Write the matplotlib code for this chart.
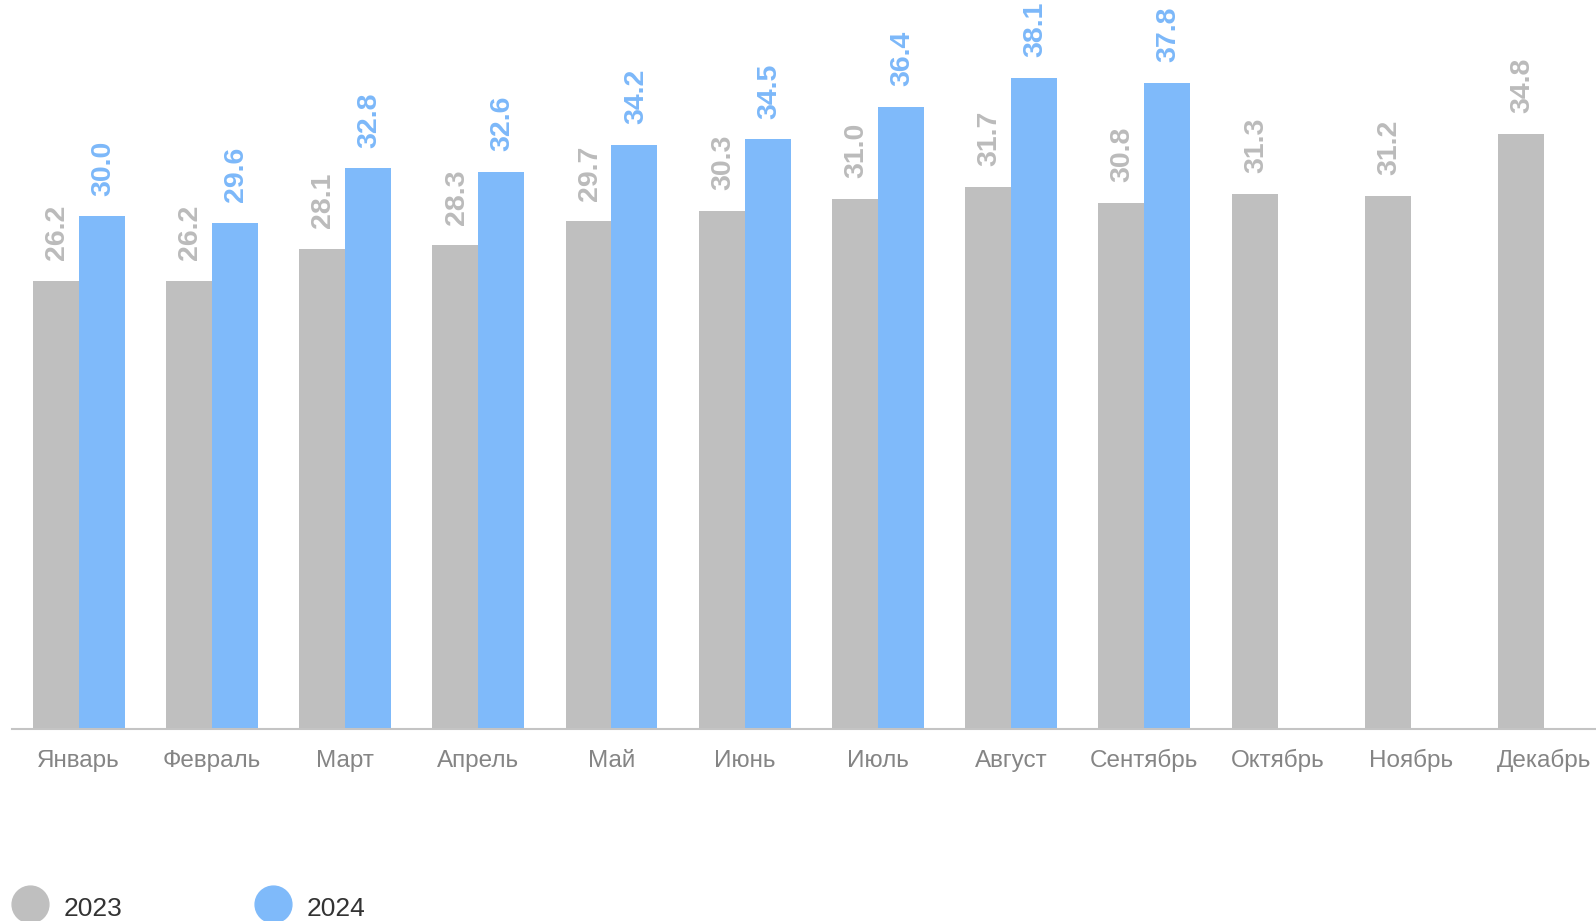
import matplotlib.pyplot as plt
from matplotlib.lines import Line2D
import numpy as np

# ===== DATA =====
months = ['Январь', 'Февраль', 'Март', 'Апрель', 'Май', 'Июнь',
          'Июль', 'Август', 'Сентябрь', 'Октябрь', 'Ноябрь', 'Декабрь']
values_2023 = [26.2, 26.2, 28.1, 28.3, 29.7, 30.3, 31.0, 31.7, 30.8, 31.3, 31.2, 34.8]
values_2024 = [30.0, 29.6, 32.8, 32.6, 34.2, 34.5, 36.4, 38.1, 37.8]
series_names = ['2023', '2024']

GRAY = '#BFBFBF'
BLUE = '#7FBAFA'

plt.rcParams['font.family'] = ['Liberation Sans', 'DejaVu Sans']

fig = plt.figure(figsize=(15.96, 9.21), dpi=100)
ax = fig.add_axes([12 / 1596, 192 / 921, 1 - 12 / 1596, 1 - 192 / 921])

x = np.arange(len(months))
w = 0.345
bars23 = ax.bar(x - w / 2, values_2023, width=w, color=GRAY)
bars24 = ax.bar(x[:len(values_2024)] + w / 2, values_2024, width=w, color=BLUE)

# value labels (rotated)
for bars, vals, col in [(bars23, values_2023, '#BBBBBB'), (bars24, values_2024, '#7CB8F9')]:
    for b, v in zip(bars, vals):
        ax.annotate(f'{v:.1f}', (b.get_x() + b.get_width() / 2, v),
                    textcoords='offset points', xytext=(1, 15),
                    rotation=90, ha='center', va='bottom',
                    fontsize=20.5, fontweight='bold', color=col)

ax.set_xlim(-0.5, 11.39)
ax.set_ylim(0, 42.66)
ax.set_xticks(x)
ax.set_xticklabels(months, fontsize=17.5, color='#858585')
for lbl in ax.get_xticklabels():
    lbl.set_va('baseline')
ax.tick_params(axis='x', length=0, pad=27)
ax.set_yticks([])
for s in ['top', 'left', 'right']:
    ax.spines[s].set_visible(False)
ax.spines['bottom'].set_color('#C4C4C4')
ax.spines['bottom'].set_linewidth(1.5)

# ===== LEGEND =====
leg_items = [(30, GRAY, 64), (273, BLUE, 307)]
for (cx, col, tx), name in zip(leg_items, series_names):
    fig.add_artist(Line2D([cx / 1596], [1 - 904 / 921], marker='o', markersize=26.5,
                          color=col, linestyle='none', transform=fig.transFigure))
    fig.text(tx / 1596, 1 - 916 / 921, name, fontsize=19, color='#333333',
             ha='left', va='baseline')

plt.savefig('out.png', dpi=100, facecolor='white')
